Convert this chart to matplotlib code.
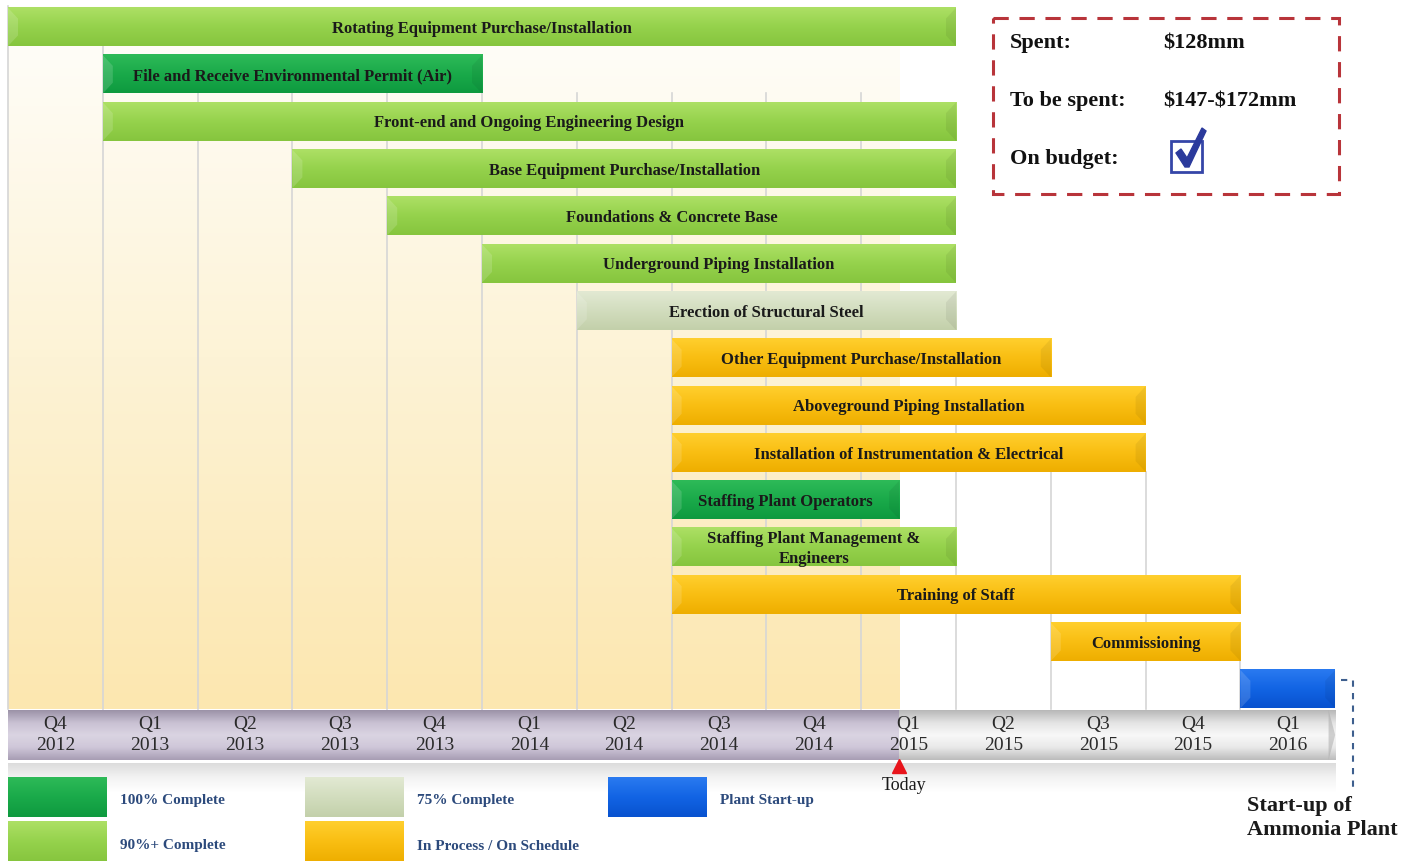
import matplotlib
matplotlib.use("Agg")
import matplotlib.pyplot as plt
import numpy as np
from matplotlib.colors import LinearSegmentedColormap
from matplotlib.patches import Rectangle, Polygon

plt.rcParams['font.family'] = ['Liberation Serif', 'DejaVu Serif']

# quarters on the timeline (index 0 = Q4 2012)
quarters = ['Q4\n2012', 'Q1\n2013', 'Q2\n2013', 'Q3\n2013', 'Q4\n2013', 'Q1\n2014', 'Q2\n2014',
            'Q3\n2014', 'Q4\n2014', 'Q1\n2015', 'Q2\n2015', 'Q3\n2015', 'Q4\n2015', 'Q1\n2016']

tasks = ['Rotating Equipment Purchase/Installation',
         'File and Receive Environmental Permit (Air)',
         'Front-end and Ongoing Engineering Design',
         'Base Equipment Purchase/Installation',
         'Foundations & Concrete Base',
         'Underground Piping Installation',
         'Erection of Structural Steel',
         'Other Equipment Purchase/Installation',
         'Aboveground Piping Installation',
         'Installation of Instrumentation & Electrical',
         'Staffing Plant Operators',
         'Staffing Plant Management &\nEngineers',
         'Training of Staff',
         'Commissioning',
         '']
start_q = [0, 1, 1, 3, 4, 5, 6, 7, 7, 7, 7, 7, 7, 11, 13]
end_q = [10, 5, 10, 10, 10, 10, 10, 11, 12, 12, 9.4, 10, 13, 13, 14]
status = ['g90', 'g100', 'g90', 'g90', 'g90', 'g90', 's75', 'prog', 'prog', 'prog',
          'g100', 'g90', 'prog', 'prog', 'start']

today_q = 9.4

legend_keys = ['g100', 's75', 'start', 'g90', 'prog']
legend_labels = ['100% Complete', '75% Complete', 'Plant Start-up', '90%+ Complete',
                 'In Process / On Schedule']

colors = {
    'g90': ['#ADE065', '#95D24C', '#86C53E'],
    'g100': ['#2EBA58', '#1AAA4A', '#0E9A3F'],
    's75': ['#E2E9D3', '#D2DDBE', '#C3D0AA'],
    'prog': ['#FFCF2E', '#F9BE12', '#EEAE00'],
    'start': ['#2A7AF0', '#1264E4', '#0852CF'],
}

# row below which each quarter grid line becomes visible
grid_from = [0, 0, 1, 1, 1, 1, 1, 1, 1, 1, 7, 9, 9, 13]

# pixel layout helpers
QW = 94.8
X0 = 8
RH = 47.3
Y0 = 27


def px2x(px):
    return (px - X0) / QW


def py2y(py):
    return (py - Y0) / RH


def grad_rect(ax, x0, x1, y0, y1, cols, z):
    cmap = LinearSegmentedColormap.from_list('g', cols)
    arr = np.linspace(0, 1, 64).reshape(-1, 1)
    ax.imshow(arr, cmap=cmap, extent=[x0, x1, y1, y0], aspect='auto',
              interpolation='bilinear', zorder=z)


fig = plt.figure(figsize=(14.2, 8.61), dpi=100)
ax = fig.add_axes([0, 0, 1, 1])
ax.set_autoscale_on(False)
ax.axis('off')

bar_h = 0.81
top_y = py2y(6)
grid_bot = py2y(709)

# background gradient up to today
grad_rect(ax, 0, today_q, top_y, grid_bot, ['#FFFEFB', '#FDF3D6', '#FCE7B0'], 0)

# vertical grid lines
ax.plot([0, 0], [top_y, grid_bot], color='#D6D6D6', lw=1.2, zorder=1)
for q in range(1, len(quarters)):
    ax.plot([q, q], [grid_from[q] + bar_h / 2, grid_bot], color='#D6D6D6', lw=1.2, zorder=1)

# task bars
for i, (t, s0, s1, st) in enumerate(zip(tasks, start_q, end_q, status)):
    y0 = i - bar_h / 2
    y1 = i + bar_h / 2
    c = colors[st]
    grad_rect(ax, s0, s1, y0, y1, c, 3)
    # bevel ends
    bv = px2x(X0 + 10) - px2x(X0)
    bh = bar_h * 0.28
    ax.add_patch(Polygon([[s0, y0], [s0 + bv, y0 + bh], [s0 + bv, y1 - bh], [s0, y1]],
                         closed=True, facecolor='white', alpha=0.15, lw=0, zorder=4))
    ax.add_patch(Polygon([[s1, y0], [s1 - bv, y0 + bh], [s1 - bv, y1 - bh], [s1, y1]],
                         closed=True, facecolor='black', alpha=0.06, lw=0, zorder=4))
    if t:
        ax.text((s0 + s1) / 2, i + 0.04, t, ha='center', va='center', fontsize=12,
                fontweight='bold', color='#1A1A1A', linespacing=1.3, zorder=5)

# timeline band
band_t = py2y(710)
band_b = py2y(760)
grad_rect(ax, 0, today_q, band_t, band_b,
          ['#9C93A8', '#C9C1D3', '#DAD4E2', '#CFC7D9', '#A89EB4'], 2)
grad_rect(ax, today_q, len(quarters), band_t, band_b,
          ['#B8B8B8', '#E4E4E4', '#F8F8F8', '#E9E9E9', '#BDBDBD'], 2)
ax.add_patch(Polygon([[len(quarters) - 0.07, band_t], [len(quarters), (band_t + band_b) / 2],
                      [len(quarters) - 0.07, band_b]], closed=True,
                     facecolor='#A8A8A8', alpha=0.5, lw=0, zorder=3))
grad_rect(ax, 0, len(quarters), py2y(763), py2y(792), ['#DCDCDC', '#F3F3F3', '#FFFFFF'], 1)

for q, lab in enumerate(quarters):
    ax.text(q + 0.5, (band_t + band_b) / 2, lab, ha='center', va='center', fontsize=14,
            color='#2A2A2A', linespacing=1.25, zorder=5)

# today marker
ax.plot([today_q], [py2y(766)], marker='^', markersize=10, color='#E8141B', zorder=6, clip_on=False)
ax.text(today_q + px2x(X0 + 5) - px2x(X0), py2y(786), 'Today', ha='center', va='center',
        fontsize=13, color='#1A1A1A')

# start-up connector
xr = end_q[-1] + px2x(X0 + 6) - px2x(X0)
xv = end_q[-1] + px2x(X0 + 18) - px2x(X0)
ax.plot([xr, xv, xv], [py2y(680), py2y(680), py2y(792)], ls=(0, (3, 3)), color='#3E5F8E',
        lw=1.5, zorder=5)
ax.text(px2x(1247), py2y(818), 'Start-up of\nAmmonia Plant', ha='left', va='center',
        fontsize=16, fontweight='bold', color='#1A1A1A', linespacing=1.3)

# legend
leg_x = [8, 305, 608, 8, 305]
leg_y = [777, 777, 777, 822, 822]
for k, lab, lx, ly in zip(legend_keys, legend_labels, leg_x, leg_y):
    grad_rect(ax, px2x(lx), px2x(lx + 99), py2y(ly), py2y(ly + 40), colors[k], 3)
    ax.text(px2x(lx + 112), py2y(ly + 24), lab, ha='left', va='center', fontsize=11,
            fontweight='bold', color='#2C4A7C')

# budget box
ax.add_patch(Rectangle((px2x(993), py2y(18)), px2x(1339) - px2x(993), py2y(194) - py2y(18),
                       fill=False, edgecolor='#B8343A', lw=2.2, ls=(0, (5, 3.5)), zorder=6))
for txt, val, py in [('Spent:', '\\$128mm', 43), ('To be spent:', '\\$147-\\$172mm', 101),
                     ('On budget:', None, 159)]:
    ax.text(px2x(1010), py2y(py), txt, ha='left', va='center', fontsize=16,
            fontweight='bold', color='#111111')
    if val:
        ax.text(px2x(1163), py2y(py), val, ha='left', va='center', fontsize=16,
                fontweight='bold', color='#111111')
ax.add_patch(Rectangle((px2x(1171), py2y(141)), px2x(1202) - px2x(1171), py2y(172) - py2y(141),
                       fill=False, edgecolor='#3546A8', lw=2, zorder=6))
check_px = [(1176, 153), (1181, 149), (1187, 158), (1202, 128), (1206, 131), (1189, 167), (1185, 167)]
ax.add_patch(Polygon([[px2x(a), py2y(b)] for a, b in check_px], closed=True,
                     facecolor='#2B3A9C', edgecolor='#2B3A9C', lw=1, zorder=7))

ax.set_xlim(px2x(0), px2x(1420))
ax.set_ylim(py2y(861), py2y(0))

fig.savefig('out.png', dpi=100)
